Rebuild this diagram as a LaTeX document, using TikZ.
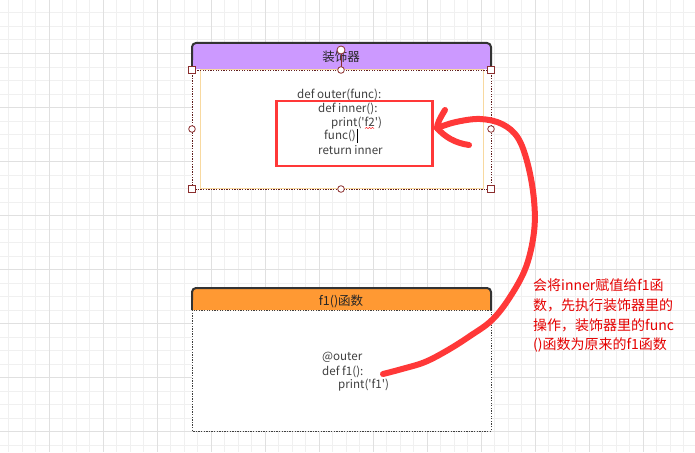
\documentclass[tikz,border=0pt]{standalone}
\usepackage{fontspec}
\setmainfont{Noto Sans CJK SC}[Ligatures=TeXOff]
\begin{document}
\begin{tikzpicture}[x=1pt,y=-1pt,
  codetext/.style={anchor=west,inner sep=0pt,text=black!75,font=\fontsize{11.6}{13}\selectfont},
  titletext/.style={inner sep=0pt,text=black!85,font=\fontsize{12.5}{14}\selectfont},
  notetext/.style={anchor=west,inner sep=0pt,text=red!90!black,font=\fontsize{14}{17}\selectfont},
  header/.style={draw=black!80,line width=2pt,rounded corners=4pt},
  dotbox/.style={draw=black!75,line width=1pt,dash pattern=on 1.3pt off 1.3pt},
  handlesq/.style={draw=handlered,fill=white,line width=0.9pt},
  handleci/.style={draw=handlered,fill=white,line width=0.8pt},
  stroke/.style={draw=penred,line width=6pt,line cap=round,line join=round}]
\definecolor{purplehead}{HTML}{CC99FF}
\definecolor{orangehead}{HTML}{FF9933}
\definecolor{handlered}{HTML}{8B2E2E}
\definecolor{penred}{HTML}{FF3838}
\definecolor{gridminor}{HTML}{F0F0F0}
\definecolor{gridmajor}{HTML}{E0E0E0}
\definecolor{selyellow}{HTML}{F8D9A0}
\useasboundingbox (0,0) rectangle (695,452);
\fill[white] (0,0) rectangle (695,452);
% grid
\foreach \i in {0,...,51} {
  \draw[gridminor,line width=0.8pt] ({8.8+13.5*\i},0) -- ({8.8+13.5*\i},452);
}
\foreach \i in {0,...,33} {
  \draw[gridminor,line width=0.8pt] (0,{12.9+13.5*\i}) -- (695,{12.9+13.5*\i});
}
\foreach \i in {0,...,12} {
  \draw[gridmajor,line width=0.9pt] ({49.3+54*\i},0) -- ({49.3+54*\i},452);
}
\foreach \i in {0,...,7} {
  \draw[gridmajor,line width=0.9pt] (0,{53.4+54*\i}) -- (695,{53.4+54*\i});
}
% upper box
\fill[white] (192,69) rectangle (491,189);
\filldraw[header,fill=purplehead] (192,69) |- (491,43) -- (491,69);
\fill[purplehead] (193,60) rectangle (490,69);
\node[titletext] (t1) at (341,57) {装饰器};
\draw[selyellow,line width=1pt] (200,69) rectangle (483,188);
\draw[dotbox,draw=handlered!70!black] (192,70) rectangle (491,189);
% code lines upper
\node[codetext] (c1) at (297,95) {def outer(func):};
\node[codetext] (c2) at (318,109) {def inner():};
\node[codetext] (c3) at (331,123) {print('f2')};
\node[codetext] (c4) at (324,136) {func()};
\node[codetext] (c5) at (318,150) {return inner};
\draw[red,line width=0.5pt] (365,128.5) -- (366.5,127.5) -- (368,128.5) -- (369.5,127.5) -- (371,128.5) -- (372.5,127.5) -- (374,128.5);
\draw[black,line width=0.8pt] ([xshift=1pt]c4.east |- 0,129) -- ([xshift=1pt]c4.east |- 0,143);
% selection handles
\draw[handlered,line width=0.8pt] (341,50) -- (341,70);
\coordinate (h0) at (341,50);
\filldraw[handleci] (h0) circle (4);
\foreach \p in {{(341,70)},{(192,129)},{(491,129)},{(341,189)}} {
  \filldraw[handleci] \p circle (3.3);
}
\foreach \p in {{(192,70)},{(491,70)},{(192,189)},{(491,189)}} {
  \filldraw[handlesq] \p ++(-3.5,-3.5) rectangle ++(7,7);
}
% red rectangle
\node[draw=penred,line width=2.8pt,minimum width=156pt,minimum height=65pt,inner sep=0pt] (hl) at (354.5,133.5) {};
% lower box
\fill[white] (192,310) rectangle (491,431);
\filldraw[header,fill=orangehead] (192,310) |- (491,288) -- (491,310);
\fill[orangehead] (193,300) rectangle (490,310);
\node[titletext] (t2) at (341,301) {f1()函数};
\draw[dotbox] (192,310) rectangle (491,431);
\node[codetext] (d1) at (322,357) {@outer};
\node[codetext] (d2) at (322,372) {def f1():};
\node[codetext] (d3) at (338,385) {print('f1')};
% freehand arrow
\coordinate (s) at (383,374);
\coordinate (tip) at (437,128);
\draw[stroke] plot[smooth,tension=0.6] coordinates {(383,374) (402,369) (425,362) (448,350) (470,336) (492,320) (510,297) (526,267) (534,232) (534,200) (528,165) (518,138) (502,124) (480,119) (456,122) (437,128)};
\draw[stroke] (445,110) .. controls (440,118) and (437,124) .. (tip);
\draw[stroke] (tip) .. controls (445,137) and (455,143) .. (469,145);
% note
\node[notetext] (n1) at (533,285) {会将inner赋值给f1函};
\node[notetext] (n2) at (533,305) {数，先执行装饰器里的};
\node[notetext] (n3) at (533,325) {操作，装饰器里的func};
\node[notetext] (n4) at (533,345) {()函数为原来的f1函数};
\end{tikzpicture}
\end{document}
